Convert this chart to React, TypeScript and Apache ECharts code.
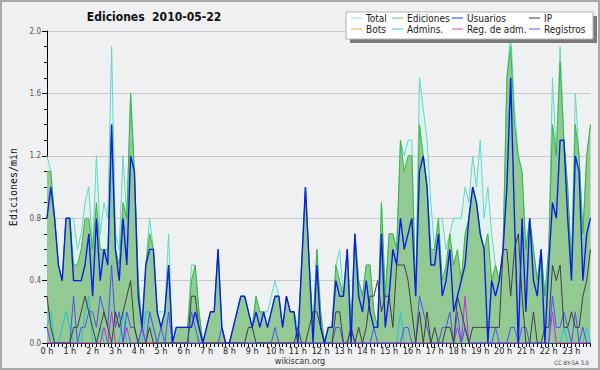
import React, { useEffect, useRef } from "react";
import * as echarts from "echarts";

const hourLabels = [
  "0 h", "1 h", "2 h", "3 h", "4 h", "5 h", "6 h", "7 h", "8 h", "9 h", "10 h", "11 h",
  "12 h", "13 h", "14 h", "15 h", "16 h", "17 h", "18 h", "19 h", "20 h", "21 h", "22 h", "23 h",
];

// 10-minute slots (categories)
const timeSlots: string[] = [];
for (let h = 0; h < 24; h++) {
  for (let m = 0; m < 60; m += 10) {
    timeSlots.push(`${String(h).padStart(2, "0")}:${String(m).padStart(2, "0")}`);
  }
}

const total = [
  1.2, 1.1, 0.8, 0.5, 0.4, 0.8,
  0.8, 0.8, 0.6, 0.7, 0.9, 1.0,
  0.6, 1.2, 0.7, 0.9, 0.8, 1.9,
  0.7, 0.6, 1.2, 0.8, 1.6, 1.1,
  0.4, 0.1, 0.5, 0.8, 0.6, 0.2,
  0.2, 0.2, 0.7, 0.0, 0.1, 0.1,
  0.1, 0.1, 0.5, 0.5, 0.2, 0.0,
  0.1, 0.2, 0.2, 0.6, 0.1, 0.0,
  0.0, 0.1, 0.2, 0.3, 0.3, 0.2,
  0.1, 0.3, 0.2, 0.2, 0.2, 0.3,
  0.4, 0.3, 0.1, 0.3, 0.2, 0.2,
  0.1, 0.5, 1.0, 0.5, 0.1, 0.6,
  0.2, 0.0, 0.1, 0.1, 0.5, 0.6,
  0.3, 0.6, 0.1, 0.7, 0.4, 0.3,
  0.5, 0.5, 0.2, 0.1, 0.9, 0.3,
  0.7, 0.7, 0.6, 1.3, 1.2, 1.3,
  1.3, 0.3, 1.7, 1.5, 1.3, 0.9,
  0.6, 0.8, 0.8, 0.6, 0.7, 0.8,
  0.8, 0.8, 1.0, 0.9, 1.2, 1.0,
  1.3, 0.8, 1.0, 0.7, 0.5, 0.4,
  0.6, 1.7, 2.0, 1.5, 1.2, 1.1,
  0.6, 0.8, 0.6, 0.4, 0.6, 0.3,
  0.6, 1.7, 1.2, 1.9, 1.3, 1.0,
  0.5, 1.6, 1.2, 0.7, 1.2, 1.4,
];

const ediciones = [
  1.1, 1.1, 0.8, 0.5, 0.4, 0.8,
  0.8, 0.5, 0.5, 0.6, 0.8, 0.8,
  0.6, 0.9, 0.6, 0.6, 0.6, 1.4,
  0.6, 0.5, 0.9, 0.8, 1.6, 1.1,
  0.4, 0.1, 0.5, 0.7, 0.6, 0.2,
  0.1, 0.2, 0.5, 0.0, 0.1, 0.1,
  0.1, 0.1, 0.4, 0.5, 0.2, 0.0,
  0.1, 0.2, 0.2, 0.6, 0.1, 0.0,
  0.0, 0.1, 0.2, 0.3, 0.3, 0.2,
  0.1, 0.3, 0.2, 0.2, 0.1, 0.2,
  0.3, 0.3, 0.1, 0.3, 0.2, 0.2,
  0.0, 0.5, 1.0, 0.5, 0.1, 0.6,
  0.2, 0.0, 0.1, 0.1, 0.5, 0.4,
  0.3, 0.6, 0.1, 0.7, 0.4, 0.3,
  0.5, 0.5, 0.2, 0.1, 0.9, 0.3,
  0.7, 0.7, 0.6, 1.3, 1.1, 1.2,
  1.2, 0.3, 1.4, 1.2, 1.0, 0.6,
  0.6, 0.8, 0.4, 0.5, 0.7, 0.5,
  0.6, 0.4, 0.7, 0.8, 1.0, 0.9,
  0.7, 0.6, 0.7, 0.4, 0.5, 0.4,
  0.6, 1.7, 1.9, 1.4, 1.2, 1.1,
  0.6, 0.8, 0.6, 0.4, 0.6, 0.3,
  0.6, 1.4, 1.2, 1.8, 1.3, 1.0,
  0.5, 1.4, 1.2, 0.7, 1.2, 1.4,
];

const usuarios = [
  0.8, 1.0, 0.8, 0.5, 0.4, 0.8,
  0.8, 0.4, 0.4, 0.4, 0.5, 0.7,
  0.3, 0.8, 0.4, 0.6, 0.5, 1.4,
  0.6, 0.4, 0.8, 0.5, 1.2, 1.1,
  0.3, 0.1, 0.5, 0.6, 0.6, 0.2,
  0.1, 0.2, 0.5, 0.0, 0.1, 0.1,
  0.1, 0.1, 0.1, 0.2, 0.1, 0.0,
  0.1, 0.2, 0.2, 0.6, 0.1, 0.0,
  0.0, 0.1, 0.2, 0.3, 0.3, 0.2,
  0.1, 0.2, 0.1, 0.2, 0.1, 0.2,
  0.3, 0.3, 0.1, 0.3, 0.2, 0.2,
  0.0, 0.5, 1.0, 0.5, 0.0, 0.5,
  0.1, 0.0, 0.1, 0.1, 0.4, 0.3,
  0.3, 0.6, 0.0, 0.7, 0.3, 0.2,
  0.4, 0.2, 0.1, 0.1, 0.7, 0.1,
  0.3, 0.6, 0.5, 0.8, 0.6, 0.7,
  0.8, 0.3, 1.1, 1.2, 1.0, 0.5,
  0.5, 0.7, 0.3, 0.4, 0.6, 0.2,
  0.3, 0.4, 0.5, 0.8, 1.0, 0.9,
  0.7, 0.6, 0.0, 0.4, 0.3, 0.4,
  0.6, 1.0, 1.7, 0.8, 0.0, 0.8,
  0.2, 0.8, 0.4, 0.3, 0.6, 0.0,
  0.5, 0.9, 0.8, 1.3, 1.3, 0.8,
  0.4, 1.2, 1.1, 0.4, 0.7, 0.8,
];

const ip = [
  0.3, 0.1, 0.0, 0.0, 0.0, 0.0,
  0.0, 0.1, 0.1, 0.2, 0.3, 0.2,
  0.1, 0.0, 0.1, 0.2, 0.1, 0.0,
  0.2, 0.1, 0.2, 0.3, 0.4, 0.1,
  0.0, 0.0, 0.0, 0.1, 0.0, 0.0,
  0.0, 0.0, 0.0, 0.0, 0.0, 0.0,
  0.0, 0.0, 0.3, 0.3, 0.1, 0.0,
  0.0, 0.0, 0.0, 0.0, 0.0, 0.0,
  0.0, 0.0, 0.0, 0.0, 0.0, 0.1,
  0.1, 0.0, 0.0, 0.0, 0.0, 0.0,
  0.0, 0.0, 0.0, 0.0, 0.0, 0.0,
  0.1, 0.0, 0.0, 0.1, 0.2, 0.2,
  0.1, 0.0, 0.0, 0.0, 0.2, 0.2,
  0.0, 0.0, 0.1, 0.0, 0.1, 0.0,
  0.1, 0.3, 0.3, 0.4, 0.2, 0.3,
  0.3, 0.1, 0.5, 0.5, 0.5, 0.4,
  0.2, 0.0, 0.2, 0.0, 0.2, 0.0,
  0.1, 0.0, 0.0, 0.1, 0.1, 0.0,
  0.3, 0.2, 0.1, 0.0, 0.1, 0.1,
  0.1, 0.1, 0.1, 0.1, 0.1, 0.1,
  0.6, 0.6, 0.3, 0.6, 0.7, 0.3,
  0.0, 0.0, 0.2, 0.0, 0.0, 0.1,
  0.1, 0.5, 0.4, 0.5, 0.1, 0.1,
  0.2, 0.1, 0.1, 0.3, 0.4, 0.6,
];

const bots = [
  0, 0, 0, 0, 0, 0, 0, 0, 0, 0, 0, 0, 0, 0, 0, 0, 0, 0, 0, 0, 0, 0, 0, 0,
  0, 0, 0, 0, 0, 0, 0, 0, 0, 0, 0, 0, 0, 0, 0, 0, 0, 0, 0, 0, 0, 0, 0, 0,
  0, 0, 0, 0, 0, 0, 0, 0, 0, 0, 0, 0, 0, 0, 0, 0, 0, 0, 0, 0, 0, 0, 0, 0,
  0, 0, 0, 0, 0, 0, 0, 0, 0, 0, 0, 0, 0, 0, 0, 0, 0, 0, 0, 0, 0, 0, 0, 0,
  0, 0, 0, 0, 0, 0, 0, 0, 0, 0, 0, 0, 0, 0, 0, 0, 0, 0, 0, 0, 0, 0, 0, 0,
  0, 0, 0, 0, 0, 0, 0, 0, 0, 0, 0, 0, 0, 0, 0, 0, 0, 0, 0, 0, 0, 0, 0, 0,
];

const admins = [
  0.1, 0.2, 0.0, 0.0, 0.1, 0.2,
  0.1, 0.0, 0.0, 0.0, 0.2, 0.3,
  0.0, 0.0, 0.1, 0.0, 0.0, 0.0,
  0.0, 0.0, 0.2, 0.0, 0.0, 0.0,
  0.0, 0.0, 0.2, 0.2, 0.1, 0.0,
  0.0, 0.0, 0.0, 0.0, 0.0, 0.0,
  0.0, 0.0, 0.0, 0.0, 0.0, 0.0,
  0.0, 0.0, 0.0, 0.0, 0.0, 0.0,
  0.0, 0.0, 0.0, 0.0, 0.0, 0.0,
  0.0, 0.0, 0.0, 0.0, 0.0, 0.0,
  0.0, 0.0, 0.0, 0.0, 0.0, 0.0,
  0.0, 0.0, 0.0, 0.0, 0.0, 0.0,
  0.0, 0.0, 0.0, 0.0, 0.0, 0.0,
  0.0, 0.0, 0.0, 0.0, 0.0, 0.0,
  0.0, 0.0, 0.0, 0.0, 0.0, 0.0,
  0.0, 0.0, 0.0, 0.2, 0.0, 0.0,
  0.0, 0.0, 0.0, 0.0, 0.0, 0.0,
  0.0, 0.0, 0.0, 0.0, 0.0, 0.0,
  0.0, 0.0, 0.0, 0.0, 0.0, 0.0,
  0.0, 0.0, 0.0, 0.0, 0.0, 0.0,
  0.0, 0.0, 0.0, 0.0, 0.0, 0.0,
  0.0, 0.0, 0.0, 0.0, 0.0, 0.0,
  0.0, 0.0, 0.0, 0.0, 0.1, 0.0,
  0.0, 0.0, 0.0, 0.0, 0.1, 0.0,
];

const regAdm = [
  0.0, 0.0, 0.0, 0.0, 0.0, 0.0,
  0.0, 0.0, 0.0, 0.0, 0.0, 0.0,
  0.0, 0.0, 0.0, 0.1, 0.0, 0.2,
  0.0, 0.0, 0.0, 0.1, 0.0, 0.0,
  0.0, 0.1, 0.0, 0.0, 0.0, 0.0,
  0.0, 0.0, 0.0, 0.0, 0.0, 0.0,
  0.0, 0.0, 0.0, 0.0, 0.0, 0.0,
  0.0, 0.0, 0.0, 0.0, 0.0, 0.0,
  0.0, 0.0, 0.0, 0.0, 0.0, 0.0,
  0.0, 0.0, 0.0, 0.0, 0.0, 0.0,
  0.0, 0.0, 0.0, 0.0, 0.0, 0.0,
  0.0, 0.0, 0.0, 0.0, 0.0, 0.0,
  0.0, 0.0, 0.0, 0.0, 0.0, 0.0,
  0.0, 0.0, 0.0, 0.0, 0.0, 0.0,
  0.0, 0.0, 0.0, 0.0, 0.0, 0.0,
  0.0, 0.0, 0.0, 0.0, 0.0, 0.0,
  0.0, 0.0, 0.0, 0.0, 0.0, 0.0,
  0.0, 0.0, 0.0, 0.0, 0.0, 0.0,
  0.1, 0.0, 0.3, 0.0, 0.0, 0.0,
  0.0, 0.0, 0.0, 0.0, 0.0, 0.0,
  0.0, 0.0, 0.0, 0.0, 0.0, 0.0,
  0.0, 0.0, 0.0, 0.0, 0.0, 0.0,
  0.0, 0.2, 0.0, 0.0, 0.0, 0.0,
  0.0, 0.0, 0.0, 0.0, 0.0, 0.0,
];

const registros = [
  0.1, 0.0, 0.0, 0.0, 0.0, 0.0,
  0.0, 0.3, 0.0, 0.1, 0.1, 0.2,
  0.2, 0.1, 0.3, 0.2, 0.1, 0.5,
  0.1, 0.2, 0.0, 0.2, 0.1, 0.1,
  0.0, 0.1, 0.0, 0.2, 0.1, 0.0,
  0.1, 0.0, 0.2, 0.0, 0.0, 0.0,
  0.0, 0.0, 0.2, 0.1, 0.0, 0.0,
  0.0, 0.0, 0.0, 0.0, 0.1, 0.0,
  0.0, 0.0, 0.0, 0.0, 0.0, 0.0,
  0.0, 0.0, 0.0, 0.0, 0.0, 0.0,
  0.1, 0.0, 0.0, 0.0, 0.0, 0.0,
  0.0, 0.0, 0.0, 0.0, 0.0, 0.0,
  0.0, 0.0, 0.0, 0.0, 0.1, 0.1,
  0.0, 0.0, 0.1, 0.0, 0.0, 0.0,
  0.0, 0.0, 0.1, 0.0, 0.0, 0.0,
  0.0, 0.0, 0.0, 0.0, 0.1, 0.1,
  0.0, 0.0, 0.3, 0.2, 0.1, 0.0,
  0.0, 0.0, 0.1, 0.1, 0.2, 0.0,
  0.2, 0.0, 0.1, 0.0, 0.0, 0.0,
  0.0, 0.0, 0.0, 0.0, 0.1, 0.0,
  0.0, 0.0, 0.1, 0.1, 0.0, 0.1,
  0.1, 0.0, 0.0, 0.0, 0.0, 0.0,
  0.0, 0.3, 0.1, 0.1, 0.2, 0.1,
  0.0, 0.2, 0.0, 0.1, 0.0, 0.0,
];

const COND = '"DejaVu Sans Condensed", "DejaVu Sans", sans-serif';

const legendItems = [
  { name: "Total", color: "#8fe0d6", left: 351, top: 13 },
  { name: "Ediciones", color: "#6cc86c", left: 392, top: 13 },
  { name: "Usuarios", color: "#2a3ee0", left: 452, top: 13 },
  { name: "IP", color: "#333333", left: 529, top: 13 },
  { name: "Bots", color: "#f0a040", left: 351, top: 24 },
  { name: "Admins.", color: "#30c8dc", left: 392, top: 24 },
  { name: "Reg. de adm.", color: "#c844e0", left: 452, top: 24 },
  { name: "Registros", color: "#5c5cf4", left: 529, top: 24 },
];

export default function App() {
  const ref = useRef<HTMLDivElement>(null);
  useEffect(() => {
    document.body.style.margin = "0";
    const chart = echarts.init(ref.current!, undefined, { renderer: "svg" });
    const line = (name: string, data: number[], color: string, width = 1, extra: any = {}) => ({
      name,
      type: "line",
      data,
      color,
      symbol: "none",
      showSymbol: false,
      lineStyle: { color, width },
      emphasis: { disabled: true },
      ...extra,
    });
    chart.setOption({
      animation: false,
      backgroundColor: "#eff0f2",
      grid: { left: 46, right: 9.5, top: 31, bottom: 27, containLabel: false },
      legend: legendItems.map((it) => ({
        data: [{ name: it.name, itemStyle: { color: it.color } }],
        left: it.left,
        top: it.top,
        padding: 0,
        icon: "rect",
        itemWidth: 11,
        itemHeight: 1,
        itemGap: 0,
        selectedMode: false,
        z: 60,
        textStyle: { fontFamily: COND, fontSize: 10, color: "#1a1a1a", padding: [0, 0, 0, -1] },
      })),
      xAxis: {
        type: "category",
        data: timeSlots,
        boundaryGap: false,
        z: 3,
        axisLine: { show: true, lineStyle: { color: "#000", width: 1 } },
        axisTick: { show: true, interval: 0, length: 4, lineStyle: { color: "#000" } },
        axisLabel: {
          interval: 0,
          margin: 3,
          fontFamily: COND,
          fontSize: 9,
          color: "#222",
          formatter: (_v: string, i: number) => (i % 6 === 0 ? hourLabels[i / 6] : ""),
        },
        splitLine: { show: false },
      },
      yAxis: {
        type: "value",
        min: 0,
        max: 2,
        interval: 0.4,
        name: "Ediciones/min",
        nameLocation: "middle",
        nameRotate: 90,
        nameGap: 29,
        nameTextStyle: { fontFamily: '"DejaVu Sans Mono", monospace', fontSize: 10, color: "#111" },
        axisLine: { show: true, lineStyle: { color: "#000" } },
        axisTick: { show: true, length: 5, lineStyle: { color: "#000" } },
        minorTick: { show: true, splitNumber: 4, length: 3, lineStyle: { color: "#000" } },
        axisLabel: {
          margin: 6,
          fontFamily: COND,
          fontSize: 8,
          color: "#555",
          formatter: (v: number) => v.toFixed(1),
        },
        splitLine: { show: true, lineStyle: { color: "#c9c9cc", width: 1 } },
      },
      series: [
        line("Total", total, "#5fd8c8", 1, { areaStyle: { color: "#dff3ee", opacity: 1 } }),
        line("Ediciones", ediciones, "#3cb43c", 1, { areaStyle: { color: "#93c993", opacity: 1 } }),
        line("Bots", bots, "#f0a040"),
        line("Admins.", admins, "#22c4dc"),
        line("Reg. de adm.", regAdm, "#c030e0"),
        line("Registros", registros, "#5050f8"),
        line("IP", ip, "#404040"),
        line("Usuarios", usuarios, "#0a1ee6", 1.4),
      ],
      graphic: {
        elements: [
          { type: "rect", z: 50, zlevel: 0, shape: { x: 350, y: 16, width: 247, height: 27 }, style: { fill: "#7a7a7a" } },
          { type: "rect", z: 51, zlevel: 0, shape: { x: 346, y: 12, width: 247, height: 27 }, style: { fill: "#ffffff", stroke: "#b4b4b4", lineWidth: 1 } },
          {
            type: "text", z: 52, x: 154, y: 17,
            style: { text: "Ediciones  2010-05-22", font: `bold 12px ${COND}`, fill: "#111", textAlign: "center", verticalAlign: "middle" },
          },
          {
            type: "text", z: 52, x: 300, y: 361,
            style: { text: "wikiscan.org", font: `9px ${COND}`, fill: "#333", textAlign: "center", verticalAlign: "middle" },
          },
          {
            type: "text", z: 52, x: 589, y: 362,
            style: { text: "CC BY-SA 3.0", font: `6px ${COND}`, fill: "#444", textAlign: "right", verticalAlign: "middle" },
          },
          { type: "rect", z: 70, shape: { x: 1, y: 1, width: 598, height: 368 }, style: { fill: "none", stroke: "#a8a8a8", lineWidth: 2 } },
        ],
      },
    });
    return () => chart.dispose();
  }, []);
  return <div ref={ref} style={{ width: 600, height: 370 }} />;
}
